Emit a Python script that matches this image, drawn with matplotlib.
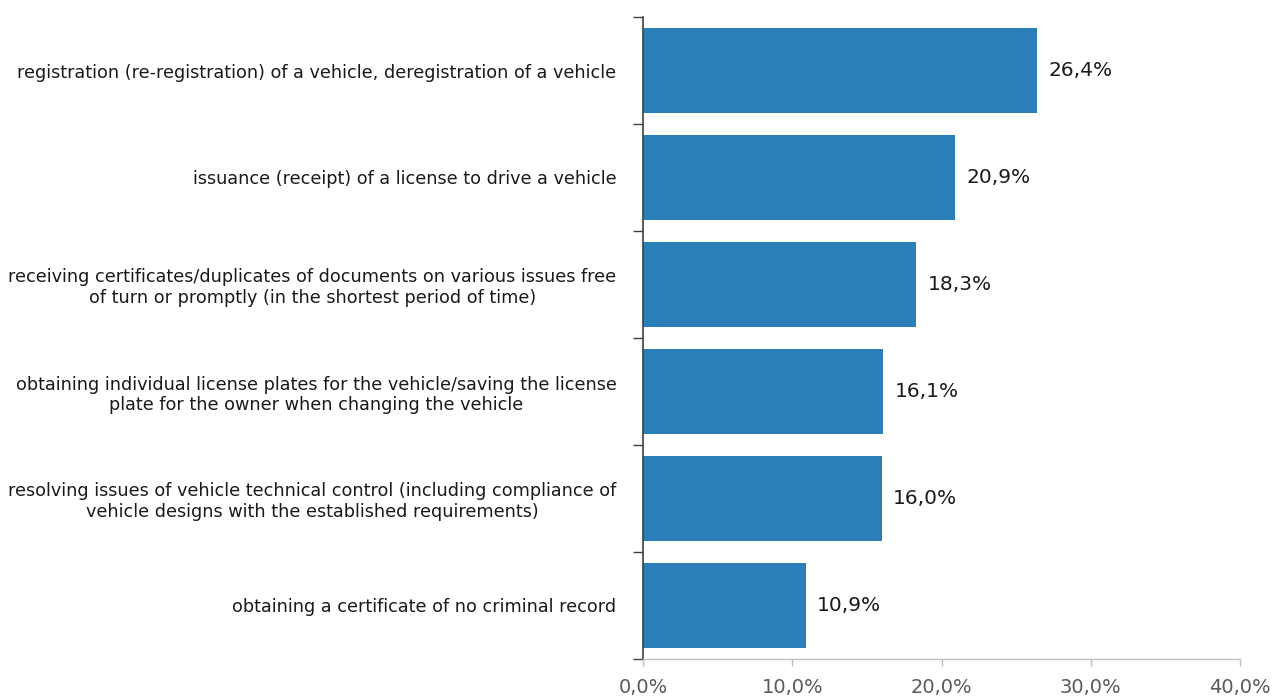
import matplotlib
matplotlib.use("Agg")
import matplotlib.pyplot as plt
import numpy as np

categories = [
    "registration (re-registration) of a vehicle, deregistration of a vehicle",
    "issuance (receipt) of a license to drive a vehicle",
    "receiving certificates/duplicates of documents on various issues free\nof turn or promptly (in the shortest period of time)",
    "obtaining individual license plates for the vehicle/saving the license\nplate for the owner when changing the vehicle",
    "resolving issues of vehicle technical control (including compliance of\nvehicle designs with the established requirements)",
    "obtaining a certificate of no criminal record",
]
values = [26.4, 20.9, 18.3, 16.1, 16.0, 10.9]
x_ticks = [0, 10, 20, 30, 40]
x_tick_labels = ["0,0%", "10,0%", "20,0%", "30,0%", "40,0%"]

plt.rcParams["font.family"] = ["DejaVu Sans"]

fig = plt.figure(figsize=(12.75, 6.99), dpi=100)
ax = fig.add_axes([643 / 1275, 40 / 699, 597 / 1275, 642 / 699])

n = len(categories)
pos = np.arange(n)
ax.barh(pos, values, height=0.8, color="#2a7fb8", zorder=2)
ax.set_ylim(n - 0.5, -0.5)
ax.set_xlim(0, 40)

for p, v in zip(pos, values):
    ax.text(v + 0.75, p, f"{v:.1f}".replace(".", ",") + "%", va="center", ha="left",
            fontsize=14.5, color="#1a1a1a")

ax.set_yticks(pos)
ax.set_yticklabels(categories, fontsize=12.7, color="#1a1a1a", linespacing=1.2)
for lbl in ax.get_yticklabels():
    lbl.set_multialignment("center")
ax.tick_params(axis="y", which="major", length=0, pad=19)
ax.set_yticks(np.arange(n + 1) - 0.5, minor=True)
ax.tick_params(axis="y", which="minor", length=7, width=1, color="#404040")

ax.set_xticks(x_ticks)
ax.set_xticklabels(x_tick_labels, fontsize=14, color="#595959")
ax.tick_params(axis="x", length=5, width=1, color="#bfbfbf", pad=9)

for s in ["top", "right"]:
    ax.spines[s].set_visible(False)
ax.spines["left"].set_color("#404040")
ax.spines["left"].set_linewidth(1.2)
ax.spines["bottom"].set_color("#bfbfbf")
ax.spines["bottom"].set_linewidth(1)

fig.savefig("out.png", dpi=100)
